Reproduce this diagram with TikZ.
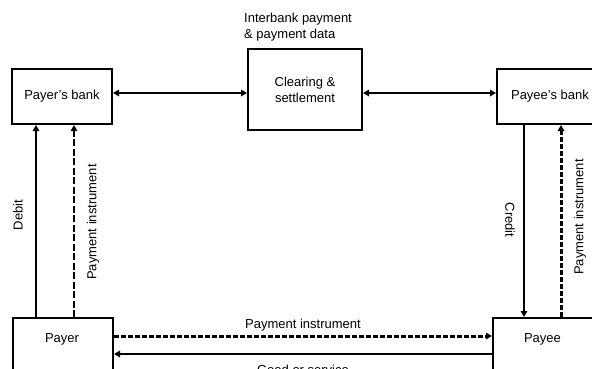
\documentclass[tikz,border=0pt]{standalone}
\usepackage{fontspec}
\setmainfont{Liberation Sans}
\usetikzlibrary{arrows.meta}
\begin{document}
\begin{tikzpicture}[x=1pt,y=-1pt,
  font=\fontsize{13}{16}\selectfont,
  box/.style={draw,line width=2pt,inner sep=0pt},
  flow/.style={line width=1.8pt,-{Triangle[length=6pt,width=6.5pt]}},
  bflow/.style={line width=1.8pt,{Triangle[length=6pt,width=6.5pt]}-{Triangle[length=6pt,width=6.5pt]}},
  thindash/.style={dash pattern=on 7pt off 2.5pt},
  thickdash/.style={line width=3pt,dash pattern=on 5pt off 2pt},
  lbl/.style={inner sep=0pt}]
\useasboundingbox (0,0) rectangle (592,369);
\clip (0,0) rectangle (592,369);
% boxes
\node[box,minimum width=100pt,minimum height=55pt] (pb) at (62,96.5) {Payer's bank};
\node[box,minimum width=114pt,minimum height=81pt,align=center] (cs) at (305,89.5) {Clearing \&\\settlement};
\node[box,minimum width=106pt,minimum height=55pt] (eb) at (550,96.5) {Payee's bank};
\node[box,minimum width=100pt,minimum height=64pt,anchor=north west] (pr) at (12,317) {};
\node[lbl] (prt) at (62,339) {Payer};
\node[box,minimum width=101pt,minimum height=64pt,anchor=north west] (pe) at (492,317) {};
\node[lbl] (pet) at (542.5,339) {Payee};
% top label
\node[lbl,align=left,anchor=west] (ib) at (244,27) {Interbank payment\\\& payment data};
% coordinates
\coordinate (h1) at (0,93);
\coordinate (xd) at (36,0);
\coordinate (xp) at (74,0);
\coordinate (xc) at (524,0);
\coordinate (xq) at (561,0);
\coordinate (hp) at (0,336);
\coordinate (hg) at (0,354);
% horizontal top arrows
\draw[bflow] (pb.east |- h1) -- (cs.west |- h1);
\draw[bflow] (cs.east |- h1) -- (eb.west |- h1);
% left verticals
\draw[flow] (pr.north -| xd) -- (pb.south -| xd);
\draw[flow,thindash] (pr.north -| xp) -- (pb.south -| xp);
% right verticals
\draw[flow] (eb.south -| xc) -- (pe.north -| xc);
\draw[flow,thickdash] (pe.north -| xq) -- (eb.south -| xq);
% bottom horizontals
\draw[flow,thickdash] (pr.east |- hp) -- (pe.west |- hp);
\draw[flow] (pe.west |- hg) -- (pr.east |- hg);
% labels
\node[lbl,rotate=90] (ld) at (18,215) {Debit};
\node[lbl,rotate=90] (lp1) at (93,222) {Payment instrument};
\node[lbl,rotate=-90] (lc) at (510,220) {Credit};
\node[lbl,rotate=90] (lp2) at (580,217) {Payment instrument};
\node[lbl] (lp3) at (303,325) {Payment instrument};
\node[lbl] (lg) at (303,370) {Good or service};
\end{tikzpicture}
\end{document}
